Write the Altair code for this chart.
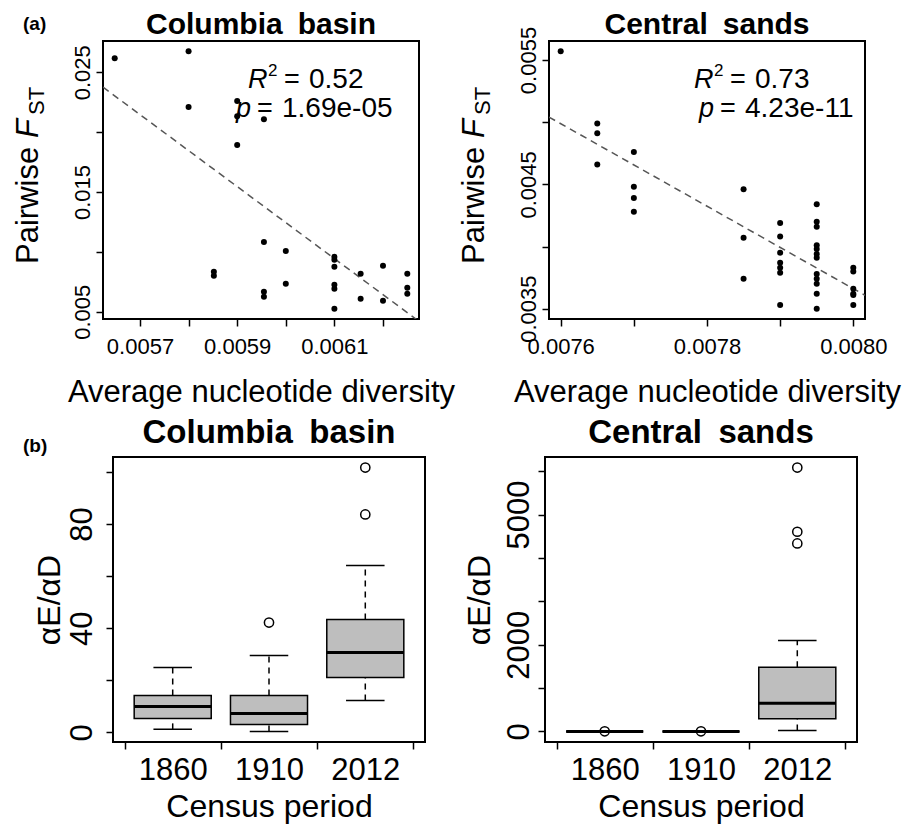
import altair as alt
import pandas as pd

FONT = "Liberation Sans"

# ---------------- (a) Columbia basin : pairwise FST vs nucleotide diversity
cb_pi = [0.005648, 0.0058, 0.0058, 0.0059, 0.0059, 0.0059, 0.005955, 0.005955,
         0.005955, 0.005955, 0.005852, 0.005852, 0.0060, 0.0060, 0.0061, 0.0061,
         0.0061, 0.0061, 0.0061, 0.0061, 0.006154, 0.006154, 0.0062, 0.0062,
         0.00625, 0.00625, 0.00625]
cb_fst = [0.02617, 0.02675, 0.0221, 0.0226, 0.02133, 0.01892, 0.02108, 0.01083,
          0.00667, 0.00625, 0.00833, 0.0080, 0.01008, 0.00733, 0.00958, 0.00933,
          0.00875, 0.00725, 0.00692, 0.00525, 0.00817, 0.00608, 0.00883, 0.00592,
          0.00817, 0.0070, 0.0065]
cb_fit_pi = [0.005624, 0.006274]
cb_fit_fst = [0.02375, 0.00420]
cb_r2 = "0.52"
cb_p = "1.69e-05"
cb_xticks = [0.0057, 0.0058, 0.0059, 0.0060, 0.0061, 0.0062]
cb_xlabels = ["0.0057", "0.0059", "0.0061"]
cb_yticks = [0.005, 0.010, 0.015, 0.020, 0.025]
cb_ylabels = ["0.005", "0.015", "0.025"]

# ---------------- (a) Central sands
cs_pi = [0.0076,
         0.00765, 0.00765, 0.00765,
         0.0077, 0.0077, 0.0077, 0.0077,
         0.00785, 0.00785, 0.00785,
         0.0079, 0.0079, 0.0079, 0.0079, 0.0079, 0.0079, 0.0079,
         0.00795, 0.00795, 0.00795, 0.00795, 0.00795, 0.00795, 0.00795, 0.00795,
         0.00795, 0.00795, 0.00795, 0.00795,
         0.0080, 0.0080, 0.0080, 0.0080, 0.0080, 0.0080]
cs_fst = [0.00557,
          0.00499, 0.00491, 0.00466,
          0.00476, 0.00448, 0.00439, 0.00428,
          0.00446, 0.00407, 0.00374,
          0.00419, 0.00408, 0.00395, 0.00387, 0.00383, 0.00379, 0.00353,
          0.00434, 0.00420, 0.00416, 0.00401, 0.00398, 0.00394, 0.00391, 0.00378,
          0.00374, 0.00370, 0.00362, 0.00350,
          0.00383, 0.00380, 0.00366, 0.00362, 0.00361, 0.00353]
cs_fit_pi = [0.007584, 0.008016]
cs_fit_fst = [0.005041, 0.003608]
cs_r2 = "0.73"
cs_p = "4.23e-11"
cs_xticks = [0.0076, 0.0077, 0.0078, 0.0079, 0.0080]
cs_xlabels = ["0.0076", "0.0078", "0.0080"]
cs_yticks = [0.0035, 0.0040, 0.0045, 0.0050, 0.0055]
cs_ylabels = ["0.0035", "0.0045", "0.0055"]

# ---------------- (b) boxplots of aE/aD by census period
periods = ["1860", "1910", "2012"]

cbb_q1 = [5.4, 3.1, 21.1]
cbb_med = [10.0, 7.3, 30.7]
cbb_q3 = [14.2, 14.2, 43.4]
cbb_lo = [1.2, 0.4, 12.3]
cbb_hi = [24.9, 29.6, 64.1]
cbb_out_period = ["1910", "2012", "2012"]
cbb_out_val = [42.2, 83.7, 101.7]
cbb_yticks = [0, 20, 40, 60, 80, 100]
cbb_ylabels = ["0", "40", "80"]

csb_q1 = [0, 0, 292]
csb_med = [0, 0, 651]
csb_q3 = [0, 0, 1480]
csb_lo = [0, 0, 23]
csb_hi = [0, 0, 2094]
csb_out_period = ["1860", "1910", "2012", "2012", "2012"]
csb_out_val = [4, 4, 4334, 4603, 6083]
csb_yticks = [0, 1000, 2000, 3000, 4000, 5000, 6000]
csb_ylabels = ["0", "2000", "5000"]


def ext(vals):
    lo, hi = min(vals), max(vals)
    r = hi - lo
    return [lo - 0.04 * r, hi + 0.04 * r]


def label_expr(labels, fmt):
    arr = ",".join("'%s'" % l for l in labels)
    return ("indexof([%s], format(datum.value, '%s')) >= 0 ? format(datum.value, '%s') : ''"
            % (arr, fmt, fmt))


def txt(s, x, y, size, weight="normal", style="normal", angle=0, align="left"):
    return alt.Chart(alt.Data(values=[{"k": 0}])).mark_text(
        text=s, font=FONT, fontSize=size, fontWeight=weight, fontStyle=style,
        angle=angle, align=align, baseline="alphabetic", color="black"
    ).encode(x=alt.value(x), y=alt.value(y))


AX = dict(domain=False, grid=False, tickColor="black", tickWidth=1.5, tickSize=7,
          labelColor="black", labelFont=FONT, labelOverlap=False, labelFlush=False,
          labelBound=False, titleColor="black", titleFont=FONT, titleFontWeight="normal")


def scatter_panel(xv, yv, fx, fy, xt, xl, xf, yt, yl, yf, title, r2, pv,
                  w, h, ann_x, p_x, tag=None):
    pts = pd.DataFrame({"pi": xv, "fst": yv})
    fit = pd.DataFrame({"pi": fx, "fst": fy})
    xs = alt.Scale(domain=ext(xv), nice=False, zero=False)
    ys = alt.Scale(domain=ext(yv), nice=False, zero=False)
    xa = alt.Axis(values=xt, labelExpr=label_expr(xl, xf), labelFontSize=22,
                  labelPadding=27, labelBaseline="alphabetic", labelAlign="center",
                  title="Average nucleotide diversity", titleFontSize=31,
                  titleBaseline="alphabetic", titleY=82, titleX=w / 2, **AX)
    ya = alt.Axis(values=yt, labelExpr=label_expr(yl, yf), labelFontSize=22,
                  labelAngle=270, labelAlign="center", labelBaseline="alphabetic",
                  labelPadding=7, title=None, **AX)
    enc = dict(x=alt.X("pi:Q", scale=xs, axis=xa), y=alt.Y("fst:Q", scale=ys, axis=ya))
    line = alt.Chart(fit).mark_line(strokeDash=[7, 5], color="#555555",
                                    strokeWidth=1.5, clip=True).encode(**enc)
    dots = alt.Chart(pts).mark_circle(size=36, color="black", opacity=1).encode(**enc)
    layers = [line, dots,
              txt(title, w / 2, -7, 30, weight="bold", align="center"),
              txt("Pairwise", -65, 223, 31, angle=270),
              txt("F", -65, 97, 31, style="italic", angle=270),
              txt("ST", -59, 74, 22, angle=270),
              txt("R", ann_x, 47, 27, style="italic"),
              txt("2", ann_x + 20, 35, 17),
              txt("=", ann_x + 36, 47, 27),
              txt(r2, ann_x + 61, 47, 28),
              txt("p", p_x, 76, 27, style="italic"),
              txt("=", p_x + 21, 76, 27),
              txt(pv, p_x + 46, 76, 28)]
    if tag:
        layers.append(txt(tag, -80, -11, 19, weight="bold"))
    return alt.layer(*layers).properties(width=w, height=h)


def box_panel(q1, med, q3, lo, hi, out_p, out_v, yt, yl, title, w, h,
              ytitle_x, ylab_pad, tag=None):
    pos = list(range(1, len(periods) + 1))
    df = pd.DataFrame({"period": periods, "pos": pos, "q1": q1, "med": med,
                       "q3": q3, "lo": lo, "hi": hi})
    out = pd.DataFrame({"pos": [periods.index(p) + 1 for p in out_p], "val": out_v})
    n = len(periods)
    xs = alt.Scale(domain=[0.5 - 0.04 * n, n + 0.5 + 0.04 * n], nice=False, zero=False)
    allv = list(lo) + list(hi) + list(out_v)
    ys = alt.Scale(domain=ext(allv), nice=False, zero=False)
    lab = " : ".join("datum.value == %d ? '%s'" % (i + 1, p) for i, p in enumerate(periods))
    xa = alt.Axis(values=[0.5 + 0.5 * k for k in range(2 * n + 1)],
                  labelExpr=lab + " : ''", labelFontSize=31, labelPadding=30,
                  labelBaseline="alphabetic", labelAlign="center",
                  title="Census period", titleFontSize=32, titleBaseline="alphabetic",
                  titleY=74, titleX=w / 2,
                  **{**AX, "tickColor": {"condition": {"test": "datum.value % 1 == 0",
                                                       "value": "transparent"},
                                         "value": "black"}})
    ya = alt.Axis(values=yt, labelExpr=label_expr(yl, "d"), labelFontSize=31,
                  labelAngle=270, labelAlign="center", labelBaseline="alphabetic",
                  labelPadding=ylab_pad, title="\u03b1E/\u03b1D", titleFontSize=32,
                  titleAngle=270, titleBaseline="alphabetic", titleAlign="center",
                  titleX=ytitle_x, titleY=h / 2, **AX)
    base = alt.Chart(df).transform_calculate(
        x1="datum.pos - 0.4", x2="datum.pos + 0.4",
        c1="datum.pos - 0.2", c2="datum.pos + 0.2")
    X = lambda f: alt.X(f, scale=xs, axis=xa)
    Y = lambda f: alt.Y(f, scale=ys, axis=ya)
    wu = base.mark_rule(strokeDash=[6, 5], strokeWidth=1.5, color="black").encode(
        x=X("pos:Q"), y=Y("q3:Q"), y2="hi:Q")
    wl = base.mark_rule(strokeDash=[6, 5], strokeWidth=1.5, color="black").encode(
        x=X("pos:Q"), y=Y("lo:Q"), y2="q1:Q")
    box = base.mark_rect(fill="#bebebe", stroke="black", strokeWidth=1.5).encode(
        x=X("x1:Q"), x2="x2:Q", y=Y("q1:Q"), y2="q3:Q")
    cu = base.mark_rule(strokeWidth=1.5, color="black").encode(
        x=X("c1:Q"), x2="c2:Q", y=Y("hi:Q"))
    cl = base.mark_rule(strokeWidth=1.5, color="black").encode(
        x=X("c1:Q"), x2="c2:Q", y=Y("lo:Q"))
    md = base.mark_rule(strokeWidth=3, color="black").encode(
        x=X("x1:Q"), x2="x2:Q", y=Y("med:Q"))
    ol = alt.Chart(out).mark_point(shape="circle", filled=False, size=85,
                                   color="black", strokeWidth=1.5, opacity=1).encode(
        x=X("pos:Q"), y=Y("val:Q"))
    layers = [wu, wl, box, cu, cl, md, ol,
              txt(title, w / 2, -14, 33, weight="bold", align="center")]
    if tag:
        layers.append(txt(tag, -90, -5, 19, weight="bold"))
    return alt.layer(*layers).properties(width=w, height=h)


p1 = scatter_panel(cb_pi, cb_fst, cb_fit_pi, cb_fit_fst, cb_xticks, cb_xlabels, ".4f",
                   cb_yticks, cb_ylabels, ".3f", "Columbia\u2002basin", cb_r2, cb_p,
                   316, 278, 145, 133, tag="(a)")
p2 = scatter_panel(cs_pi, cs_fst, cs_fit_pi, cs_fit_fst, cs_xticks, cs_xlabels, ".4f",
                   cs_yticks, cs_ylabels, ".4f", "Central\u2002sands", cs_r2, cs_p,
                   316, 278, 145, 150)
p3 = box_panel(cbb_q1, cbb_med, cbb_q3, cbb_lo, cbb_hi, cbb_out_period, cbb_out_val,
               cbb_yticks, cbb_ylabels, "Columbia\u2002basin", 312, 285, -54, 15, tag="(b)")
p4 = box_panel(csb_q1, csb_med, csb_q3, csb_lo, csb_hi, csb_out_period, csb_out_val,
               csb_yticks, csb_ylabels, "Central\u2002sands", 312, 285, -56, 10)

# small invisible spacer that indents the lower-left panel relative to the upper-left one
spacer = alt.Chart(alt.Data(values=[{"k": 0}])).mark_point(opacity=0).encode(
    x=alt.value(0), y=alt.value(0)
).properties(width=1, height=1, view=alt.ViewBackground(strokeOpacity=0))

row1 = alt.hconcat(p1, p2, spacing=130, bounds="flush")
left2 = alt.hconcat(spacer, p3, spacing=9, bounds="flush")
row2 = alt.hconcat(left2, p4, spacing=442, bounds="flush")
chart = alt.vconcat(row1, row2, spacing=8).properties(
    padding={"left": 4, "top": 1, "right": 2, "bottom": 2},
    background="white"
).configure_view(stroke="black", strokeWidth=2)

chart.save("out.html", embed_options={"renderer": "svg", "actions": False})
